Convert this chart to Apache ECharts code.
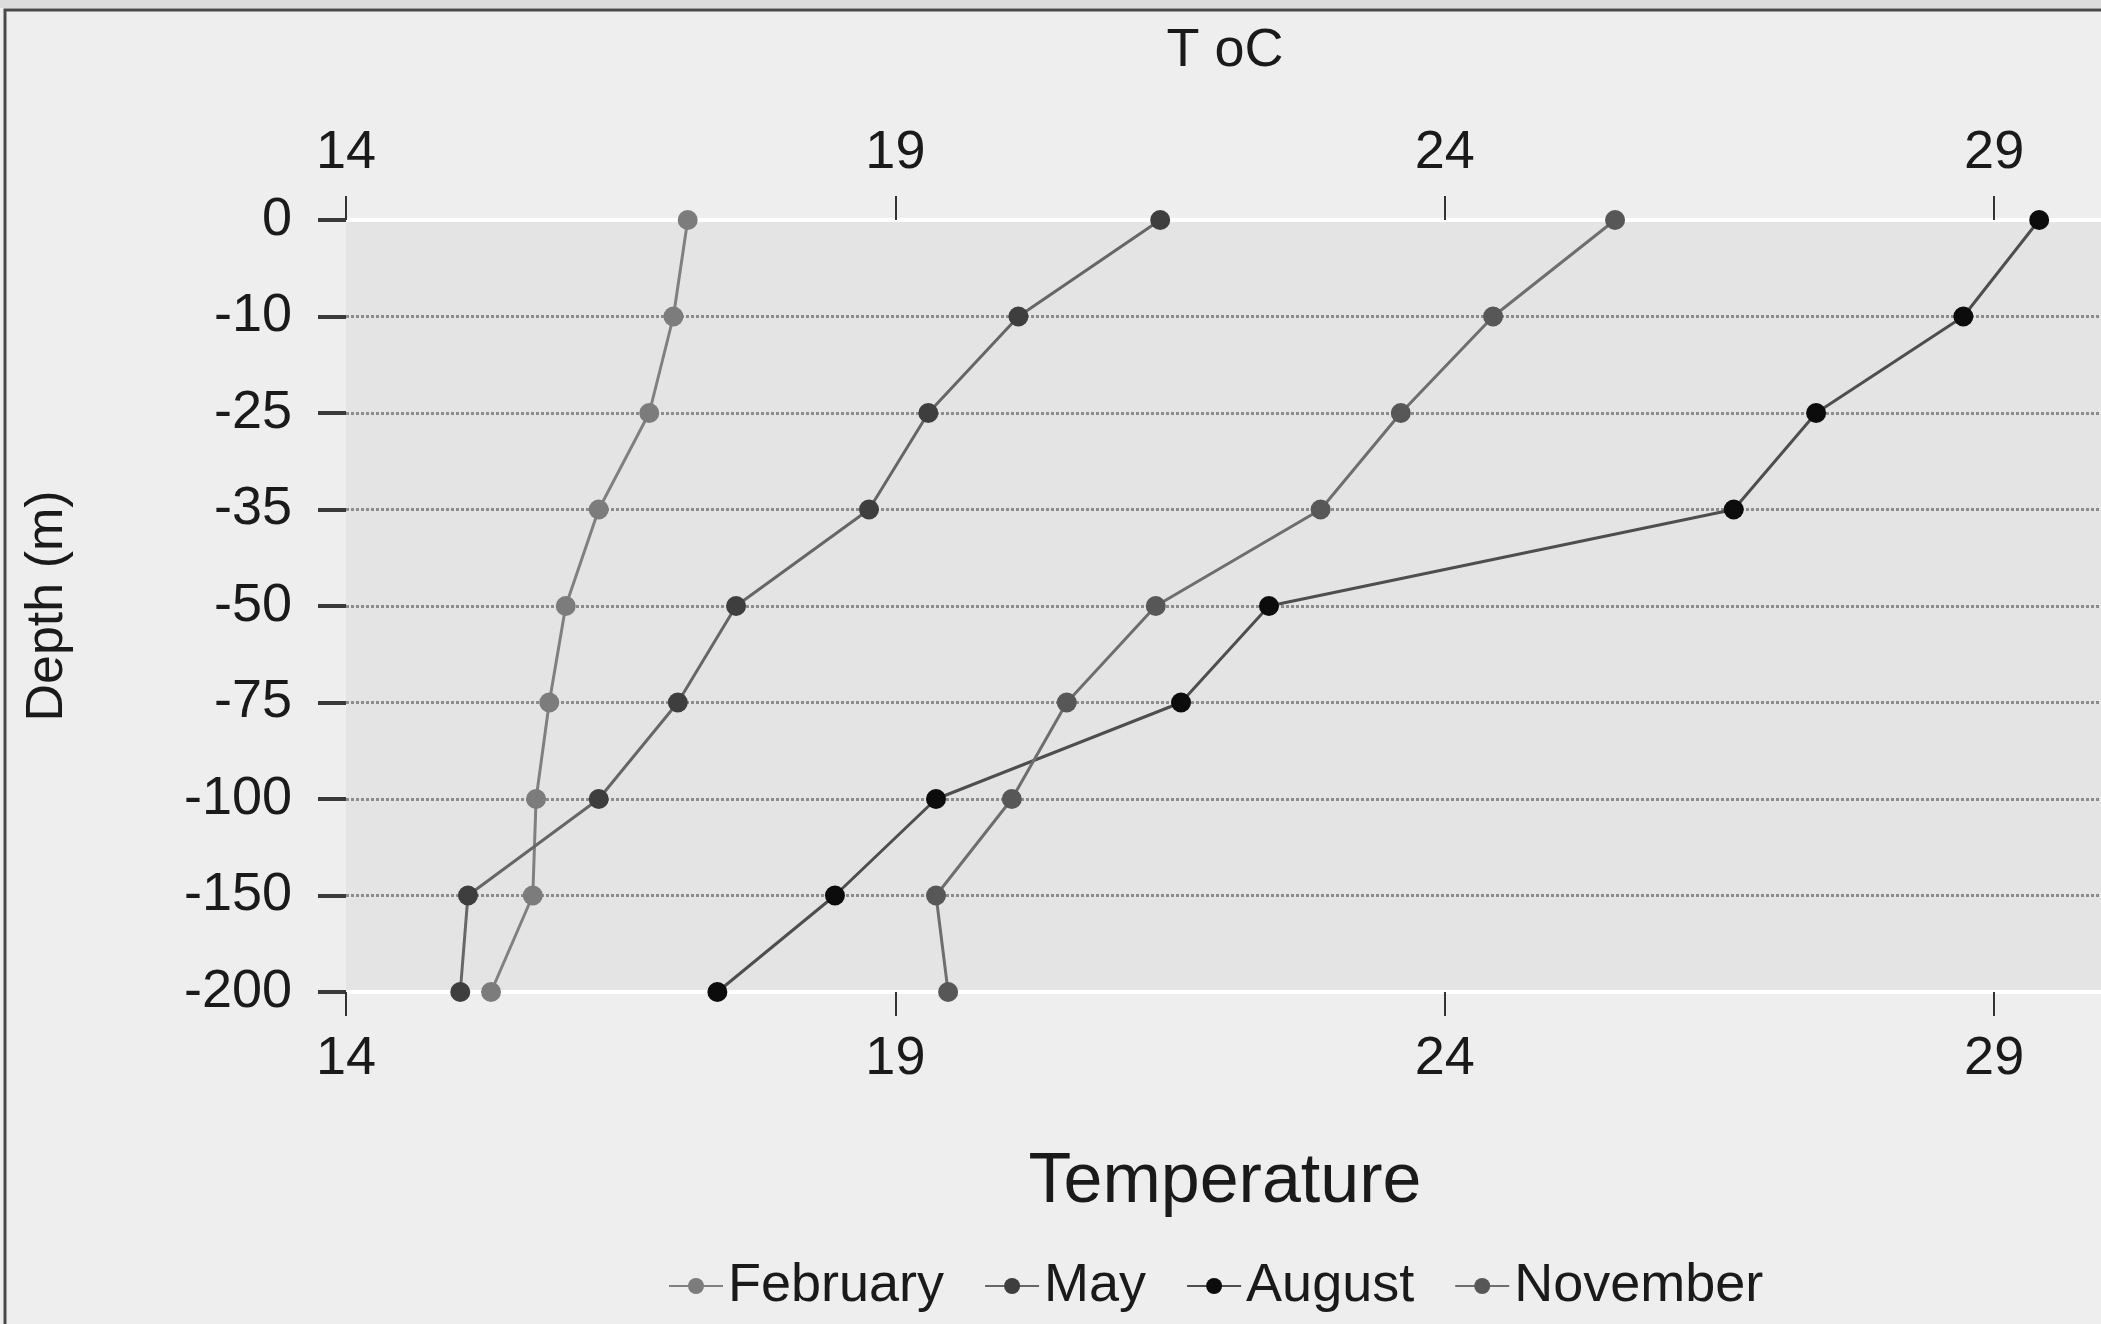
<!DOCTYPE html>
<html>
<head>
<meta charset="utf-8">
<script src="https://cdn.jsdelivr.net/npm/echarts@6/dist/echarts.min.js"></script>
<style>
  html, body { margin: 0; padding: 0; background: #eeeeee; }
  #profile { width: 2101px; height: 1324px; }
</style>
</head>
<body>
<div id="profile"></div>
<script>
var dom = document.getElementById("profile");
var profile = echarts.init(dom);

// depth levels (m), top to bottom
var depths = ['0', '-10', '-25', '-35', '-50', '-75', '-100', '-150', '-200'];
// temperature (oC) at each depth
var february = [17.11, 16.98, 16.76, 16.30, 16.00, 15.85, 15.73, 15.70, 15.32];
var may = [21.41, 20.12, 19.30, 18.76, 17.55, 17.02, 16.30, 15.11, 15.04];
var august = [29.41, 28.72, 27.38, 26.63, 22.40, 21.60, 19.37, 18.45, 17.38];
var november = [25.55, 24.44, 23.60, 22.87, 21.37, 20.56, 20.06, 19.37, 19.48];
var tempTicks = [14, 19, 24, 29];

var font = "'Liberation Sans', Arial, Helvetica, sans-serif";
var ink = '#1a1a1a';

function pairs(vals) {
  return vals.map(function(v, i) { return [v, depths[i]]; });
}

function profileSeries(name, vals, lineColor, dotColor) {
  return {
    name: name,
    type: 'line',
    data: pairs(vals),
    symbol: 'circle',
    symbolSize: 20,
    lineStyle: { color: lineColor, width: 3 },
    itemStyle: { color: dotColor },
    z: 3
  };
}

function tempAxis(pos, name, gap, size) {
  return {
    type: 'value',
    position: pos,
    min: tempTicks[0],
    max: 30,
    interval: tempTicks[1] - tempTicks[0],
    name: name,
    nameLocation: 'middle',
    nameGap: gap,
    nameTextStyle: { color: ink, fontSize: size, fontFamily: font },
    axisLine: { show: true, lineStyle: { color: '#ffffff', width: 4 } },
    axisTick: { show: true, length: 24, lineStyle: { color: '#333', width: 2 } },
    axisLabel: { color: ink, fontSize: 54, fontFamily: font, margin: 40, showMaxLabel: false },
    splitLine: { show: false }
  };
}

option = {
  backgroundColor: '#eeeeee',
  animation: false,
  graphic: [
    { type: 'rect', shape: { x: 0, y: 0, width: 2101, height: 8 }, style: { fill: '#dcdcdc' } },
    { type: 'rect', shape: { x: 5, y: 10, width: 2200, height: 1400 },
      style: { fill: 'none', stroke: '#4a4a4a', lineWidth: 3 } }
  ],
  grid: {
    left: 346,
    top: 220,
    width: 1758,
    height: 772,
    outerBoundsMode: 'none',
    containLabel: false,
    show: true,
    backgroundColor: '#e4e4e4',
    borderWidth: 0
  },
  legend: {
    data: ['February', 'May', 'August', 'November'],
    left: 668,
    top: 1256,
    padding: 0,
    itemWidth: 54,
    itemHeight: 20,
    itemGap: 40,
    textStyle: { color: ink, fontSize: 54, fontFamily: font, lineHeight: 60 }
  },
  xAxis: [
    tempAxis('top', 'T oC', 142, 54),
    tempAxis('bottom', 'Temperature', 156, 70)
  ],
  yAxis: {
    type: 'category',
    data: depths,
    inverse: true,
    boundaryGap: false,
    name: 'Depth (m)',
    nameLocation: 'middle',
    nameRotate: 90,
    nameGap: 272,
    nameTextStyle: { color: ink, fontSize: 52, fontFamily: font },
    axisLine: { show: false },
    axisTick: { show: true, length: 28, lineStyle: { color: '#3a3a3a', width: 4 } },
    axisLabel: { color: ink, fontSize: 54, fontFamily: font, margin: 54 },
    splitLine: {
      show: true,
      showMinLine: false,
      showMaxLine: false,
      lineStyle: { color: '#8c8c8c', width: 3, type: [3, 2] }
    }
  },
  series: [
    profileSeries('February', february, '#808080', '#7c7c7c'),
    profileSeries('May', may, '#666666', '#3e3e3e'),
    profileSeries('August', august, '#4e4e4e', '#0c0c0c'),
    profileSeries('November', november, '#6e6e6e', '#575757')
  ]
};
profile.setOption(option, true);
</script>
</body>
</html>
